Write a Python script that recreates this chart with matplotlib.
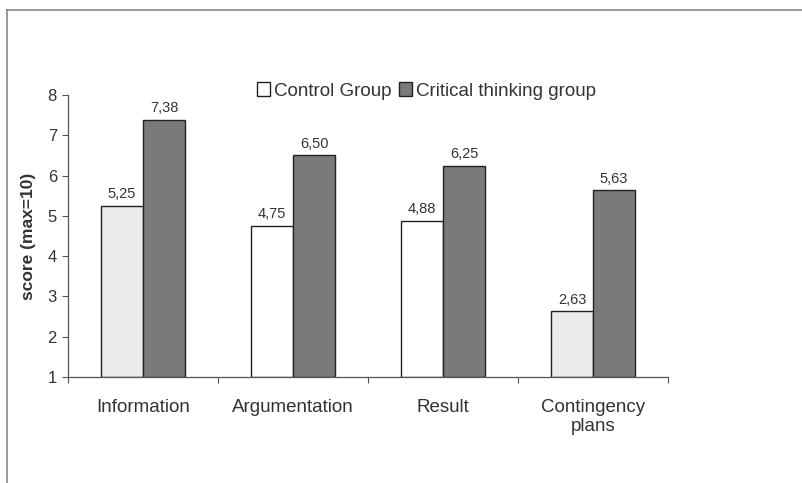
import numpy as np
import matplotlib
matplotlib.use("Agg")
import matplotlib.pyplot as plt
from matplotlib.patches import Patch
from matplotlib.lines import Line2D

categories = ["Information", "Argumentation", "Result", "Contingency\nplans"]
control = [5.25, 4.75, 4.88, 2.63]
critical = [7.38, 6.50, 6.25, 5.63]
control_fill = ["#ebebeb", "#ffffff", "#ffffff", "#ebebeb"]
critical_fill = "#7a7a7a"
text_color = "#333333"

plt.rcParams["font.family"] = ["Liberation Sans", "DejaVu Sans"]

fig = plt.figure(figsize=(8.02, 4.83), dpi=100)
ax = fig.add_axes([68 / 802, 1 - 377 / 483, 600 / 802, 282 / 483])

x = np.arange(len(categories))
w = 0.28
ax.bar(x - w / 2, np.array(control) - 1, w, bottom=1, color=control_fill,
       edgecolor="#222222", linewidth=1.0)
ax.bar(x + w / 2, np.array(critical) - 1, w, bottom=1, color=critical_fill,
       edgecolor="#222222", linewidth=1.0)

def fmt(v):
    return f"{v:.2f}".replace(".", ",")

for xi, v in zip(x - w / 2, control):
    ax.text(xi, v + 0.12, fmt(v), ha="center", va="bottom", fontsize=10.5, color=text_color)
for xi, v in zip(x + w / 2, critical):
    ax.text(xi, v + 0.12, fmt(v), ha="center", va="bottom", fontsize=10.5, color=text_color)

ax.set_xlim(-0.5, len(categories) - 0.5)
ax.set_ylim(1, 8)
ax.set_yticks(range(1, 9))
ax.tick_params(axis="y", direction="out", length=4, width=0.8, colors="#555555",
               labelcolor=text_color, labelsize=12, pad=4)
ax.set_xticks(x)
ax.set_xticklabels(categories, fontsize=13.5, color=text_color, linespacing=1.1)
ax.tick_params(axis="x", which="major", length=0, pad=16)
ax.set_xticks(np.arange(len(categories) + 1) - 0.5, minor=True)
ax.tick_params(axis="x", which="minor", direction="out", length=4, width=0.8, colors="#555555")

for s in ["top", "right"]:
    ax.spines[s].set_visible(False)
for s in ["left", "bottom"]:
    ax.spines[s].set_color("#555555")
    ax.spines[s].set_linewidth(0.9)

ax.set_ylabel("score (max=10)", fontsize=12.5, fontweight="bold", color=text_color, labelpad=8)

handles = [Patch(facecolor="#ffffff", edgecolor="#222222", linewidth=1.0),
           Patch(facecolor=critical_fill, edgecolor="#222222", linewidth=1.0)]
fig.legend(handles, ["Control Group", "Critical thinking group"], loc="center",
           bbox_to_anchor=(0.532, 1 - 91 / 483), ncol=2, frameon=False, fontsize=13.5,
           handlelength=0.7, handleheight=0.7, handletextpad=0.2, columnspacing=0.4,
           labelcolor=text_color)

# outer frame lines
fig.add_artist(Line2D([7 / 802, 1], [1 - 10 / 483, 1 - 10 / 483], transform=fig.transFigure,
                      color="#888888", linewidth=1.2))
fig.add_artist(Line2D([7 / 802, 7 / 802], [0, 1 - 10 / 483], transform=fig.transFigure,
                      color="#888888", linewidth=1.2))

fig.savefig("out.png", dpi=100)
